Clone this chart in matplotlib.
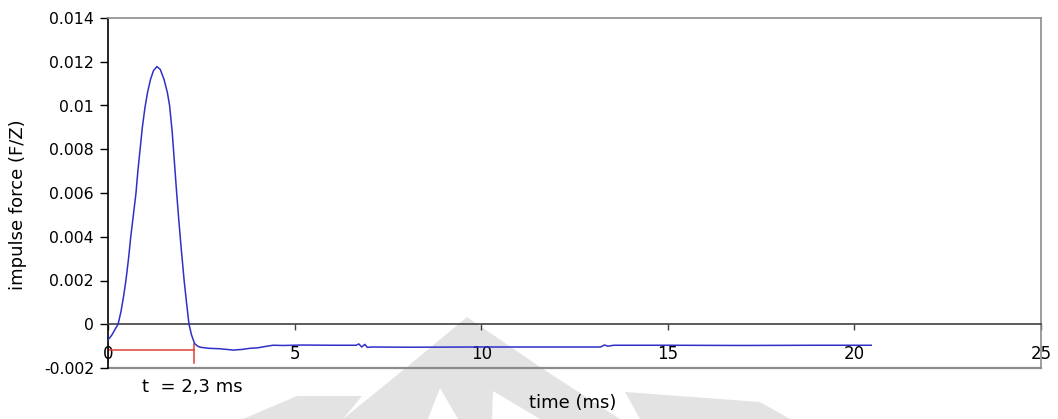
import matplotlib
matplotlib.use("Agg")
import matplotlib.pyplot as plt
from matplotlib.patches import Polygon

# Impulse force history (time in ms, force normalised F/Z)
time_ms = [0.00, 0.10, 0.20, 0.27, 0.35, 0.42, 0.48, 0.55, 0.61, 0.68,
           0.75, 0.80, 0.86, 0.92, 0.99, 1.06, 1.14, 1.22, 1.31, 1.40,
           1.50, 1.59, 1.65, 1.72, 1.78, 1.84, 1.90, 1.96, 2.04, 2.11,
           2.17, 2.24, 2.32, 2.40, 2.47, 2.70, 3.00, 3.35, 3.60, 3.80,
           4.00, 4.20, 4.42, 4.70, 5.20, 6.00, 6.65, 6.72, 6.80, 6.88,
           6.95, 7.05, 8.00, 10.00, 12.00, 13.20, 13.30, 13.40, 13.55, 15.00,
           17.00, 19.00, 20.45]
force = [-0.00072, -0.00050, -0.00020, 0.00000, 0.00060, 0.00130, 0.00200, 0.00300, 0.00400, 0.00500,
         0.00600, 0.00700, 0.00800, 0.00900, 0.00990, 0.01060, 0.01120, 0.01160, 0.01178, 0.01165,
         0.01120, 0.01060, 0.01000, 0.00880, 0.00740, 0.00600, 0.00470, 0.00350, 0.00200, 0.00090,
         0.00000, -0.00050, -0.00088, -0.00100, -0.00105, -0.00110, -0.00112, -0.00118, -0.00115, -0.00110,
         -0.00108, -0.00102, -0.00096, -0.00097, -0.00095, -0.00096, -0.00096, -0.00090, -0.00104, -0.00092,
         -0.00106, -0.00104, -0.00105, -0.00104, -0.00104, -0.00104, -0.00095, -0.00100, -0.00096, -0.00096,
         -0.00097, -0.00096, -0.00096]

# Pulse duration marker
pulse_end = 2.3
marker_level = -0.00118

x_ticks = [0, 5, 10, 15, 20, 25]
y_ticks = [-0.002, 0, 0.002, 0.004, 0.006, 0.008, 0.01, 0.012, 0.014]
y_tick_labels = ["-0.002", "0", "0.002", "0.004", "0.006", "0.008", "0.01", "0.012", "0.014"]

plt.rcParams["font.family"] = ["DejaVu Sans"]

W, H = 1058, 419
fig = plt.figure(figsize=(W / 100, H / 100), dpi=100)
fig.patch.set_facecolor("white")


def px(pts):
    return [(x / W, 1 - y / H) for x, y in pts]


# faint background logo
wm_grey = "#e3e3e3"
for pts, col in [
    ([(467, 317), (540, 367), (620, 419), (343, 419), (407, 367)], wm_grey),
    ([(243, 419), (297, 396), (362, 396), (343, 419)], wm_grey),
    ([(625, 392), (760, 402), (790, 419), (640, 419)], wm_grey),
    ([(440, 388), (428, 419), (458, 419)], "white"),
    ([(493, 391), (492, 419), (540, 419)], "white"),
]:
    fig.add_artist(Polygon(px(pts), closed=True, transform=fig.transFigure,
                           facecolor=col, edgecolor="none", zorder=-2))

ax = fig.add_axes([108 / W, 51 / H, 933 / W, 350 / H])
ax.set_facecolor("none")

ax.plot(time_ms, force, color="#3030c8", lw=1.1, zorder=3)

# duration bracket
ax.plot([0, pulse_end], [marker_level, marker_level], color="#e04038", lw=1.1, zorder=2)
for xv in (0, pulse_end):
    ax.plot([xv, xv], [-0.0009, -0.00177], color="#e04038", lw=1.1, zorder=2)
ax.text(0.91, -0.00286, "t  = " + f"{pulse_end:.1f}".replace(".", ",") + " ms",
        fontsize=13, ha="left", va="center", clip_on=False)

ax.set_xlim(0, 25)
ax.set_ylim(-0.002, 0.014)

ax.spines["left"].set_color("black")
ax.spines["left"].set_linewidth(1.2)
ax.spines["bottom"].set_position(("data", 0))
ax.spines["bottom"].set_color("#404040")
ax.spines["bottom"].set_linewidth(1.2)
for s in ("top", "right"):
    ax.spines[s].set_color("#8c8c8c")
    ax.spines[s].set_linewidth(1.2)
ax.axhline(-0.002, color="#8c8c8c", lw=1.6, clip_on=False, zorder=1)

ax.set_xticks(x_ticks)
ax.set_xticklabels([str(v) for v in x_ticks])
ax.set_yticks(y_ticks)
ax.set_yticklabels(y_tick_labels)
ax.tick_params(axis="x", direction="out", length=4, width=1, color="#404040",
               pad=11, labelsize=12)
ax.tick_params(axis="y", direction="out", length=6, width=1, color="black",
               pad=4, labelsize=11.3)

ax.set_xlabel("time (ms)", fontsize=13)
ax.xaxis.set_label_coords(0.498, -0.075)
ax.set_ylabel("impulse force (F/Z)", fontsize=13)
ax.yaxis.set_label_coords(-0.087, 0.466)

fig.savefig("out.png", dpi=100, facecolor="white")
